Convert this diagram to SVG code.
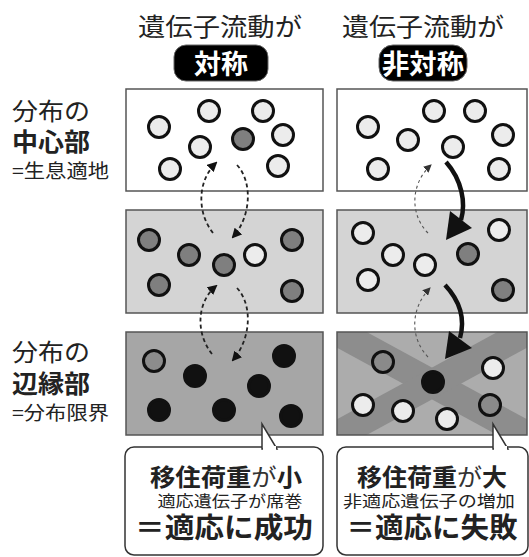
<svg xmlns="http://www.w3.org/2000/svg" width="529" height="557" viewBox="0 0 529 557">
<style>
.t{font-family:"Noto Sans CJK JP","Noto Sans",sans-serif;fill:#222}
.b{font-weight:bold}
.w{fill:#fff;font-weight:bold}
.panel{stroke:#555;stroke-width:1.5}
.c{stroke:#111;stroke-width:3}
.lt{fill:#ececec}
.md{fill:#7f7f7f}
.bk{fill:#111}
.dash{fill:none;stroke:#222;stroke-width:1.8;stroke-dasharray:4 3}
.thin{fill:none;stroke:#555;stroke-width:1.1;stroke-dasharray:3 3}
.thick{fill:none;stroke:#111;stroke-width:4.5}
.call{fill:#fff;stroke:#333;stroke-width:1.5}
</style>
<defs>
<marker id="ah" markerUnits="userSpaceOnUse" markerWidth="10" markerHeight="10" refX="8" refY="5" orient="auto" viewBox="0 0 10 10">
<path d="M0,0 L10,5 L0,10 z" fill="#111"/>
</marker>
<marker id="ahs" markerUnits="userSpaceOnUse" markerWidth="8" markerHeight="8" refX="7" refY="4" orient="auto" viewBox="0 0 8 8">
<path d="M0,0 L8,4 L0,8 z" fill="#333"/>
</marker>
<clipPath id="clipBR"><rect x="337" y="332" width="190" height="103"/></clipPath>
</defs>

<g id="headers">
<text class="t" x="220" y="36" font-size="25" text-anchor="middle" textLength="164" lengthAdjust="spacingAndGlyphs">遺伝子流動が</text>
<text class="t" x="423" y="36" font-size="25" text-anchor="middle" textLength="162" lengthAdjust="spacingAndGlyphs">遺伝子流動が</text>
<rect x="174" y="45" width="94" height="36" rx="12" fill="#000" stroke="#666" stroke-width="1"/>
<text class="t w" x="221" y="74" font-size="27" text-anchor="middle">対称</text>
<rect x="379" y="45" width="88" height="36" rx="14" fill="#000" stroke="#666" stroke-width="1"/>
<text class="t w" x="423" y="74" font-size="27" text-anchor="middle" textLength="82" lengthAdjust="spacingAndGlyphs">非対称</text>
</g>

<g id="side-labels">
<text class="t" x="12" y="120" font-size="24" textLength="78" lengthAdjust="spacingAndGlyphs">分布の</text>
<text class="t b" x="12" y="151" font-size="25" textLength="78" lengthAdjust="spacingAndGlyphs">中心部</text>
<text class="t" x="12" y="178" font-size="19" textLength="97" lengthAdjust="spacingAndGlyphs">=生息適地</text>
<text class="t" x="12" y="361" font-size="24" textLength="78" lengthAdjust="spacingAndGlyphs">分布の</text>
<text class="t b" x="12" y="393" font-size="25" textLength="78" lengthAdjust="spacingAndGlyphs">辺縁部</text>
<text class="t" x="12" y="420" font-size="19" textLength="97" lengthAdjust="spacingAndGlyphs">=分布限界</text>
</g>

<g id="panel-center-sym">
<rect class="panel" x="126" y="89" width="197" height="102" fill="#fff"/>
<circle class="c lt" cx="159" cy="127" r="10.5"/>
<circle class="c lt" cx="209" cy="111" r="10.5"/>
<circle class="c lt" cx="263" cy="111" r="10.5"/>
<circle class="c lt" cx="200" cy="147" r="10.5"/>
<circle class="c md" cx="243" cy="139" r="10.5"/>
<circle class="c lt" cx="283" cy="135" r="10.5"/>
<circle class="c lt" cx="170" cy="169" r="10.5"/>
<circle class="c lt" cx="278" cy="166" r="10.5"/>
</g>

<g id="panel-center-asym">
<rect class="panel" x="337" y="89" width="190" height="102" fill="#fff"/>
<circle class="c lt" cx="368" cy="127" r="10.5"/>
<circle class="c lt" cx="434" cy="111" r="10.5"/>
<circle class="c lt" cx="475" cy="111" r="10.5"/>
<circle class="c lt" cx="408" cy="140" r="10.5"/>
<circle class="c lt" cx="503" cy="135" r="10.5"/>
<circle class="c lt" cx="453" cy="147" r="10.5"/>
<circle class="c lt" cx="378" cy="169" r="10.5"/>
<circle class="c lt" cx="499" cy="169" r="10.5"/>
</g>

<g id="panel-mid-sym">
<rect class="panel" x="126" y="210" width="197" height="103" fill="#d4d4d4"/>
<circle class="c md" cx="149" cy="240" r="10.5"/>
<circle class="c md" cx="189" cy="255" r="10.5"/>
<circle class="c md" cx="224" cy="265" r="10.5"/>
<circle class="c lt" cx="255" cy="255" r="10.5"/>
<circle class="c md" cx="292" cy="240" r="10.5"/>
<circle class="c md" cx="159" cy="285" r="10.5"/>
<circle class="c md" cx="292" cy="291" r="10.5"/>
</g>

<g id="panel-mid-asym">
<rect class="panel" x="337" y="210" width="190" height="103" fill="#d4d4d4"/>
<circle class="c lt" cx="363" cy="233" r="10.5"/>
<circle class="c lt" cx="393" cy="255" r="10.5"/>
<circle class="c lt" cx="425" cy="265" r="10.5"/>
<circle class="c lt" cx="368" cy="280" r="10.5"/>
<circle class="c md" cx="468" cy="254" r="10.5"/>
<circle class="c lt" cx="499" cy="230" r="10.5"/>
<circle class="c md" cx="503" cy="290" r="10.5"/>
</g>

<g id="panel-edge-sym">
<rect class="panel" x="126" y="332" width="197" height="103" fill="#a6a6a6"/>
<circle class="c" cx="154" cy="361" r="10.5" fill="#8c8c8c"/>
<circle class="c bk" cx="195" cy="376" r="10.5"/>
<circle class="c bk" cx="284" cy="356" r="10.5"/>
<circle class="c bk" cx="259" cy="386" r="10.5"/>
<circle class="c bk" cx="159" cy="410" r="10.5"/>
<circle class="c bk" cx="224" cy="410" r="10.5"/>
<circle class="c bk" cx="291" cy="416" r="10.5"/>
</g>

<g id="panel-edge-asym">
<rect x="337" y="332" width="190" height="103" fill="#acacac"/>
<g clip-path="url(#clipBR)" stroke="#8d8d8d" stroke-width="28">
<line x1="330" y1="328" x2="534" y2="439"/>
<line x1="534" y1="328" x2="330" y2="439"/>
</g>
<rect class="panel" x="337" y="332" width="190" height="103" fill="none"/>
<circle class="c" cx="383" cy="362" r="10.5" fill="#8a8a8a"/>
<circle class="c bk" cx="433" cy="382" r="10.5"/>
<circle class="c lt" cx="493" cy="368" r="10.5"/>
<circle class="c lt" cx="363" cy="405" r="10.5"/>
<circle class="c lt" cx="403" cy="411" r="10.5"/>
<circle class="c lt" cx="447" cy="419" r="10.5"/>
<circle class="c" cx="490" cy="405" r="10.5" fill="#8a8a8a"/>
</g>

<g id="connectors">
<path class="dash" d="M213,233 C197,213 197,181 216,163" marker-end="url(#ah)"/>
<path class="dash" d="M237,165 C253,182 251,217 233,237" marker-end="url(#ah)"/>
<path class="dash" d="M212,354 C196,334 196,303 216,286" marker-end="url(#ah)"/>
<path class="dash" d="M237,288 C253,305 251,339 233,360" marker-end="url(#ah)"/>
<path class="thin" d="M428,233 C410,215 410,184 431,165" marker-end="url(#ahs)"/>
<path class="thin" d="M428,357 C410,338 410,309 430,288" marker-end="url(#ahs)"/>
<path class="thick" d="M446,162 C462,180 466,203 461,220"/>
<polygon points="446,240 450,211 472,228" fill="#111"/>
<path class="thick" d="M445,285 C461,302 465,320 460,338"/>
<polygon points="445,359 449,331 472,348" fill="#111"/>
</g>

<g id="callout-success">
<rect class="call" x="125" y="447" width="198" height="108" rx="9"/>
<polygon points="262,449 262,424 277,449" fill="#fff" stroke="#333" stroke-width="1.5" stroke-linejoin="miter"/>
<rect x="263" y="446" width="13" height="4" fill="#fff"/>
<text class="t" x="226" y="486" font-size="24" text-anchor="middle" textLength="152" lengthAdjust="spacingAndGlyphs"><tspan class="b">移住荷重</tspan><tspan fill="#333">が</tspan><tspan class="b">小</tspan></text>
<text class="t" x="230" y="507" font-size="16" fill="#333" text-anchor="middle" textLength="145" lengthAdjust="spacingAndGlyphs">適応遺伝子が席巻</text>
<text class="t b" x="224" y="538" font-size="28" text-anchor="middle" textLength="178" lengthAdjust="spacingAndGlyphs">＝適応に成功</text>
</g>

<g id="callout-failure">
<rect class="call" x="337" y="447" width="191" height="108" rx="9"/>
<polygon points="493,449 493,424 508,449" fill="#fff" stroke="#333" stroke-width="1.5"/>
<rect x="494" y="446" width="13" height="4" fill="#fff"/>
<text class="t" x="432" y="486" font-size="24" text-anchor="middle" textLength="150" lengthAdjust="spacingAndGlyphs"><tspan class="b">移住荷重</tspan><tspan fill="#333">が</tspan><tspan class="b">大</tspan></text>
<text class="t" x="429" y="507" font-size="16" fill="#333" text-anchor="middle" textLength="172" lengthAdjust="spacingAndGlyphs">非適応遺伝子の増加</text>
<text class="t b" x="432" y="538" font-size="28" text-anchor="middle" textLength="171" lengthAdjust="spacingAndGlyphs">＝適応に失敗</text>
</g>
</svg>
